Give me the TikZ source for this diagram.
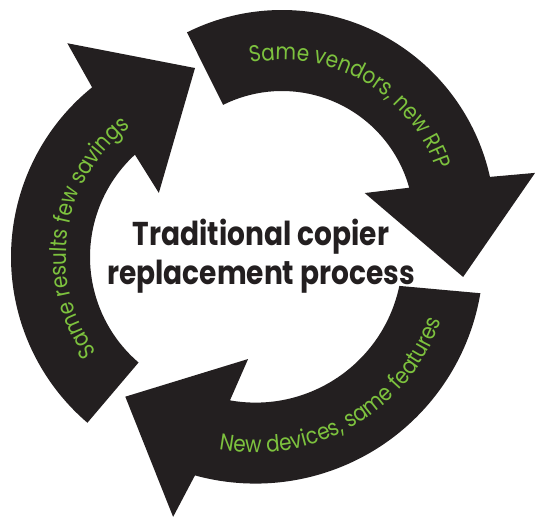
\documentclass[tikz,border=0pt]{standalone}
\usepackage{fontspec}
\newfontfamily\cyclefont[FakeStretch=0.87]{Poppins}
\newfontfamily\titlefont[FakeStretch=0.85]{Poppins}
\usetikzlibrary{decorations.text}
\definecolor{arrowblack}{RGB}{35,31,32}
\definecolor{labelgreen}{RGB}{125,194,62}
\tikzset{
  bentarrow/.style={fill=arrowblack},
  arclabel/.style={decorate, decoration={text along path, text align=center,
    text={|\cyclefont\fontsize{23}{23}\selectfont\color{labelgreen}|#1}}},
  title/.style={align=center, font=\titlefont\bfseries\fontsize{33}{39}\selectfont, text=arrowblack}
}

\begin{document}
\begin{tikzpicture}[x=1pt,y=1pt]
\useasboundingbox (0,0) rectangle (535,518);
% top: vendors / RFP
\begin{scope}[shift={(282,295)}]
\fill[bentarrow] (116.5:213) arc[start angle=116.5, end angle=12.5, radius=213]
  -- (11.2:258) -- (-16.6:189) -- (19.9:88) -- (15.5:132)
  arc[start angle=15.5, end angle=116.5, radius=132] -- cycle;
\path[arclabel={Same vendors, new RFP}] (120:163) arc[start angle=120, end angle=0, radius=163];
\end{scope}
% bottom: devices / features
\begin{scope}[shift={(255.5,262.4)}]
\fill[bentarrow] (-9.5:228) arc[start angle=-9.5, end angle=-105.4, radius=228]
  -- (-107.5:274) -- (227.3:192) -- (265.9:103.7) -- (260:147)
  arc[start angle=-100, end angle=-11.9, radius=147] -- cycle;
\path[arclabel={New devices, same features}] (240:197) arc[start angle=240, end angle=360, radius=197];
\end{scope}
% left: results / savings
\begin{scope}[shift={(229,261)}]
\fill[bentarrow] (229.5:218) arc[start angle=229.5, end angle=128.9, radius=218]
  -- (127.1:268) -- (100.2:192) -- (137.6:95) -- (132.6:139)
  arc[start angle=132.6, end angle=229.4, radius=139] -- cycle;
\path[arclabel={Same results few savings}] (231.5:163) arc[start angle=231.5, end angle=111.5, radius=163];
\end{scope}
\node[title] (process) at (261,262) {Traditional copier\\replacement process};
\end{tikzpicture}
\end{document}
